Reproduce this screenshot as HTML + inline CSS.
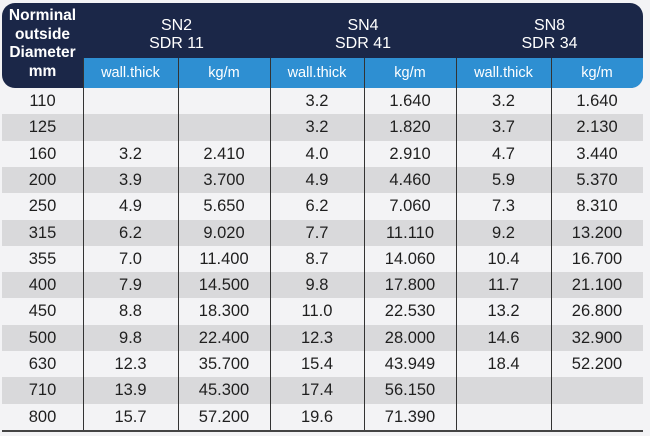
<!DOCTYPE html>
<html><head><meta charset="utf-8"><style>
body{margin:0;width:650px;height:436px;background:#f3f3f5;font-family:"Liberation Sans",sans-serif;overflow:hidden;position:relative}
.hdr{position:absolute;left:2px;top:3px;width:641px;height:85px;background:#1b2748;border-radius:13px}
.sub{position:absolute;top:58px;height:30px;left:83px;width:560px;background:#2e8fd2;border-radius:0 0 12px 0}
.t{position:absolute;color:#fff;text-align:center;font-size:16px;line-height:18px}
.st{position:absolute;top:58px;height:30px;line-height:30px;color:#fff;font-size:14.5px;text-align:center}
.vl{position:absolute;width:1px;background:#333}
.row{position:absolute;left:2px;width:641px;height:26.3px}
.row.g{background:#d9d9db}
.c{position:absolute;top:0;height:26.3px;line-height:26.3px;text-align:center;font-size:16.5px;color:#1f1f1f}
</style></head><body>
<div class="hdr"></div>
<div class="sub"></div>
<div class="t" style="left:2px;top:7px;width:81px;font-weight:bold;font-size:15.5px;line-height:18.5px">Norminal<br>outside<br>Diameter<br>mm</div>
<div class="t" style="left:83px;top:17px;width:187px">SN2<br>SDR 11</div>
<div class="t" style="left:270px;top:17px;width:186px">SN4<br>SDR 41</div>
<div class="t" style="left:456px;top:17px;width:187px">SN8<br>SDR 34</div>
<div class="st" style="left:83px;width:95px">wall.thick</div>
<div class="st" style="left:178px;width:92px">kg/m</div>
<div class="st" style="left:270px;width:94px">wall.thick</div>
<div class="st" style="left:364px;width:92px">kg/m</div>
<div class="st" style="left:456px;width:95px">wall.thick</div>
<div class="st" style="left:551px;width:92px">kg/m</div>
<div id="rows"></div>
<div class="vl" style="left:83px;top:58px;height:372px"></div>
<div class="vl" style="left:178px;top:58px;height:372px"></div>
<div class="vl" style="left:270px;top:58px;height:372px"></div>
<div class="vl" style="left:364px;top:58px;height:372px"></div>
<div class="vl" style="left:456px;top:58px;height:372px"></div>
<div class="vl" style="left:551px;top:58px;height:372px"></div>
<div style="position:absolute;left:2px;top:430px;width:641px;height:2px;background:#444"></div>
<script>
const diameters=["110","125","160","200","250","315","355","400","450","500","630","710","800"];
const sn2Wall=["","","3.2","3.9","4.9","6.2","7.0","7.9","8.8","9.8","12.3","13.9","15.7"];
const sn2Kg=["","","2.410","3.700","5.650","9.020","11.400","14.500","18.300","22.400","35.700","45.300","57.200"];
const sn4Wall=["3.2","3.2","4.0","4.9","6.2","7.7","8.7","9.8","11.0","12.3","15.4","17.4","19.6"];
const sn4Kg=["1.640","1.820","2.910","4.460","7.060","11.110","14.060","17.800","22.530","28.000","43.949","56.150","71.390"];
const sn8Wall=["3.2","3.7","4.7","5.9","7.3","9.2","10.4","11.7","13.2","14.6","18.4","",""];
const sn8Kg=["1.640","2.130","3.440","5.370","8.310","13.200","16.700","21.100","26.800","32.900","52.200","",""];
const cols=[[0,81],[81,95],[176,92],[268,94],[362,92],[454,95],[549,92]];
const host=document.getElementById('rows');
diameters.forEach((d,i)=>{
  const r=document.createElement('div');
  r.className='row'+(i%2?' g':'');
  r.style.top=(88+i*26.3)+'px';
  
  
  [d,sn2Wall[i],sn2Kg[i],sn4Wall[i],sn4Kg[i],sn8Wall[i],sn8Kg[i]].forEach((v,j)=>{
    const c=document.createElement('div');
    c.className='c';
    c.style.left=cols[j][0]+'px';c.style.width=cols[j][1]+'px';
    c.textContent=v;
    
    
    r.appendChild(c);
  });
  host.appendChild(r);
});
</script>
</body></html>
